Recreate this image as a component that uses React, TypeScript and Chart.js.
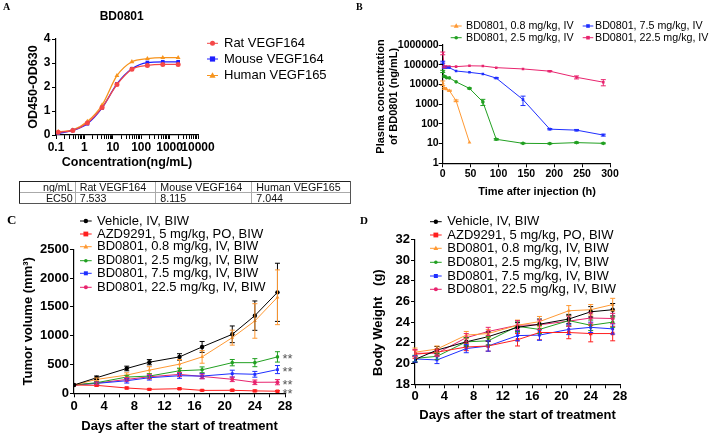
import React, { useEffect, useRef } from "react";
import { Chart, registerables } from "chart.js";

Chart.register(...registerables);

const FONT = "'Liberation Sans', Arial, Helvetica, sans-serif";
Chart.defaults.font.family = FONT;
Chart.defaults.color = "#000";

// ---------- Panel A: ELISA binding ----------
const concA = [0.12, 0.39, 1.27, 4.2, 14, 47, 165, 575, 2000];
const ratA = [0.11, 0.19, 0.5, 1.15, 2.1, 2.74, 2.9, 2.94, 2.94];
const mouseA = [0.07, 0.19, 0.47, 1.13, 2.13, 2.76, 3.02, 3.05, 3.05];
const humanA = [0.13, 0.21, 0.56, 1.25, 2.47, 3.05, 3.18, 3.22, 3.22];
const ticksA = [0.1, 1, 10, 100, 1000, 10000];
const ec50Header = ["ng/mL", "Rat VEGF164", "Mouse VEGF164", "Human VEGF165"];
const ec50Row = ["EC50", "7.533", "8.115", "7.044"];

// ---------- Panel B: PK ----------
const timesB = [0.083, 3, 7, 12, 24, 48, 72, 96, 144, 192, 240, 288];
const pk08 = [12000, 6300, 5800, 4800, 1480, 11.5];
const pk08Sd = [3000, 600, 0, 300, 150, 0];
const pk25 = [46000, 25500, 22000, 21500, 13500, 6300, 1300, 16.5, 10.3, 10, 11.2, 10.3];
const pk25Sd = [6000, 2000, 0, 0, 0, 400, 450, 1.5, 0.5, 0.5, 0.8, 0.6];
const pk75 = [135000, 74000, 70000, 70000, 48000, 41000, 34000, 21000, 1700, 54, 48, 27];
const pk75Sd = [15000, 8000, 0, 0, 0, 0, 0, 1500, 850, 4, 4, 3];
const pk225 = [380000, 78000, 80000, 80000, 80000, 88000, 86000, 71000, 61000, 47000, 23000, 13000];
const pk225Sd = [60000, 8000, 0, 0, 0, 0, 0, 0, 0, 3000, 4000, 4500];
const ticksB = [1, 10, 100, 1000, 10000, 100000, 1000000];

// ---------- Panels C & D ----------
const daysCD = [0, 3, 7, 10, 14, 17, 21, 24, 27];
const groupLabels = [
  "Vehicle, IV, BIW",
  "AZD9291, 5 mg/kg, PO, BIW",
  "BD0801, 0.8 mg/kg, IV, BIW",
  "BD0801, 2.5 mg/kg, IV, BIW",
  "BD0801, 7.5 mg/kg, IV, BIW",
  "BD0801, 22.5 mg/kg, IV, BIW",
];
const tvVehicle = [144, 270, 431, 540, 632, 805, 1024, 1348, 1753];
const tvVehicleSd = [0, 30, 40, 45, 55, 95, 145, 255, 505];
const tvAzd = [144, 138, 92, 69, 80, 50, 52, 42, 36];
const tvAzdSd = [0, 15, 15, 12, 12, 10, 15, 15, 12];
const tv08 = [144, 241, 316, 402, 506, 632, 966, 1256, 1667];
const tv08Sd = [0, 25, 40, 60, 80, 110, 130, 300, 475];
const tv25 = [144, 184, 282, 299, 391, 408, 532, 532, 632];
const tv25Sd = [0, 20, 30, 40, 45, 50, 55, 70, 90];
const tv75 = [144, 172, 218, 270, 305, 299, 341, 330, 412];
const tv75Sd = [0, 20, 40, 40, 45, 45, 60, 50, 70];
const tv225 = [144, 176, 241, 287, 328, 293, 243, 191, 193];
const tv225Sd = [0, 20, 30, 35, 35, 40, 40, 40, 45];
const sigC = ["", "**", "", "**", "**", "**"];

const bwVehicle = [20.4, 21.3, 22.1, 22.6, 23.5, 23.8, 24.3, 25.0, 25.2];
const bwVehicleSd = [0.3, 0.35, 0.4, 0.45, 0.45, 0.5, 0.45, 0.5, 0.6];
const bwAzd = [20.9, 21.1, 21.6, 21.7, 22.3, 23.0, 23.0, 22.9, 22.9];
const bwAzdSd = [0.4, 0.3, 0.35, 0.5, 0.6, 0.7, 0.6, 0.8, 0.7];
const bw08 = [21.1, 21.4, 22.75, 22.9, 23.7, 24.05, 25.1, 25.2, 25.7];
const bw08Sd = [0.4, 0.3, 0.35, 0.4, 0.5, 0.5, 0.5, 0.5, 0.6];
const bw25 = [20.5, 20.7, 22.1, 22.2, 23.6, 23.3, 24.15, 23.7, 24.0];
const bw25Sd = [0.3, 0.3, 0.4, 0.4, 0.5, 0.4, 0.5, 0.5, 0.5];
const bw75 = [20.45, 20.35, 21.45, 21.7, 22.7, 22.75, 23.3, 23.5, 23.35];
const bw75Sd = [0.3, 0.35, 0.4, 0.5, 0.5, 0.5, 0.5, 0.5, 0.5];
const bw225 = [21.0, 21.0, 22.5, 23.1, 23.7, 23.75, 24.1, 24.4, 24.35];
const bw225Sd = [0.35, 0.3, 0.4, 0.4, 0.45, 0.45, 0.5, 0.5, 0.5];

// ---------- colours ----------
const BLACK = "#000000";
const RED = "#ff1f1f";
const ORANGE = "#ff9933";
const GREEN = "#22a022";
const BLUE = "#1f2fff";
const PINK = "#e8246e";
const A_RAT = "#f44848";
const A_MOUSE = "#1e1eff";
const A_HUMAN = "#f7941d";

const pts = (xs: number[], ys: number[]) => ys.map((y, i) => ({ x: xs[i], y }));

function drawMarker(ctx: CanvasRenderingContext2D, style: string, x: number, y: number, r: number, color: string) {
  ctx.fillStyle = color;
  ctx.beginPath();
  if (style === "rect") {
    ctx.rect(x - r, y - r, 2 * r, 2 * r);
  } else if (style === "triangle") {
    ctx.moveTo(x, y - r * 1.2);
    ctx.lineTo(x + r * 1.1, y + r * 0.8);
    ctx.lineTo(x - r * 1.1, y + r * 0.8);
    ctx.closePath();
  } else {
    ctx.arc(x, y, r, 0, Math.PI * 2);
  }
  ctx.fill();
}

type LegendPos = { x0: number; x1: number; tx: number; y: number };

function makeLegendPlugin(pos: LegendPos[], font: string) {
  return {
    id: "panelLegend",
    afterDraw(chart: any) {
      const ctx = chart.ctx as CanvasRenderingContext2D;
      ctx.save();
      chart.data.datasets.forEach((ds: any, i: number) => {
        const p = pos[i];
        if (!p) return;
        ctx.strokeStyle = ds.borderColor;
        ctx.lineWidth = 1;
        ctx.beginPath();
        ctx.moveTo(p.x0, p.y);
        ctx.lineTo(p.x1, p.y);
        ctx.stroke();
        drawMarker(ctx, ds.pointStyle, (p.x0 + p.x1) / 2, p.y, ds.pointRadius, ds.borderColor);
        ctx.fillStyle = "#000";
        ctx.font = font;
        ctx.textAlign = "left";
        ctx.textBaseline = "middle";
        ctx.fillText(ds.label, p.tx, p.y);
      });
      ctx.restore();
    },
  };
}

const errorBarPlugin = {
  id: "errorBars",
  afterDatasetsDraw(chart: any) {
    const ctx = chart.ctx as CanvasRenderingContext2D;
    const ys = chart.scales.y;
    ctx.save();
    chart.data.datasets.forEach((ds: any, i: number) => {
      const errs: number[] | undefined = ds.errors;
      if (!errs) return;
      const meta = chart.getDatasetMeta(i);
      ctx.strokeStyle = ds.borderColor;
      ctx.lineWidth = 1;
      meta.data.forEach((pt: any, j: number) => {
        const e = errs[j];
        if (!e) return;
        const v = ds.data[j].y;
        const yt = ys.getPixelForValue(v + e);
        const yb = ys.getPixelForValue(Math.max(v - e, ys.min));
        ctx.beginPath();
        ctx.moveTo(pt.x, yt);
        ctx.lineTo(pt.x, yb);
        ctx.moveTo(pt.x - 2.5, yt);
        ctx.lineTo(pt.x + 2.5, yt);
        ctx.moveTo(pt.x - 2.5, yb);
        ctx.lineTo(pt.x + 2.5, yb);
        ctx.stroke();
      });
    });
    ctx.restore();
  },
};

const sigPlugin = {
  id: "sigMarks",
  afterDraw(chart: any) {
    const ctx = chart.ctx as CanvasRenderingContext2D;
    ctx.save();
    ctx.font = `13px ${FONT}`;
    ctx.fillStyle = "#555";
    ctx.textAlign = "left";
    ctx.textBaseline = "middle";
    chart.data.datasets.forEach((ds: any, i: number) => {
      if (!ds.sig) return;
      const meta = chart.getDatasetMeta(i);
      const last = meta.data[meta.data.length - 1];
      ctx.fillText(ds.sig, last.x + 5, last.y + 3);
    });
    ctx.restore();
  },
};

function ds(label: string, color: string, style: string, r: number, data: any[], extra: any = {}) {
  return {
    label,
    data,
    borderColor: color,
    backgroundColor: color,
    pointBackgroundColor: color,
    pointBorderColor: color,
    pointStyle: style,
    pointRadius: r,
    pointBorderWidth: 0,
    borderWidth: 1,
    fill: false,
    ...extra,
  };
}

type Geo = { W: number; H: number; l: number; t: number; r: number; b: number };

function axisBase(fontSize: number) {
  return {
    border: { display: true, color: "#000", width: 1.2 },
    grid: { display: true, drawOnChartArea: false, drawTicks: true, tickLength: 4, color: "#000", tickColor: "#000", lineWidth: 1 },
    ticks: { font: { size: fontSize, weight: "bold" as const }, color: "#000", autoSkip: false, maxRotation: 0, minRotation: 0 },
  };
}

function baseOptions(g: Geo) {
  return {
    responsive: false,
    maintainAspectRatio: false,
    animation: false as const,
    events: [] as any[],
    layout: { autoPadding: false, padding: { left: 0, top: g.t, right: g.W - g.r, bottom: 0 } },
    plugins: { legend: { display: false }, tooltip: { enabled: false }, title: { display: false } },
  };
}

function fixY(width: number) {
  return (s: any) => {
    s.width = width;
    s.paddingTop = 0;
    s.paddingBottom = 0;
    s.paddingLeft = 0;
    s.paddingRight = 0;
  };
}
function fixX(height: number) {
  return (s: any) => {
    s.height = height;
    s.paddingTop = 0;
    s.paddingBottom = 0;
    s.paddingLeft = 0;
    s.paddingRight = 0;
  };
}

const plainNum = (v: number) => String(v);

// ---------- chart builders ----------
const geoA: Geo = { W: 355, H: 175, l: 56, t: 39, r: 198, b: 135 };
function buildA() {
  const g = geoA;
  const xb = axisBase(12);
  const yb = axisBase(12);
  return {
    type: "line" as const,
    data: {
      datasets: [
        ds("Rat VEGF164", A_RAT, "circle", 2.5, pts(concA, ratA), { cubicInterpolationMode: "monotone", borderWidth: 1.3 }),
        ds("Mouse VEGF164", A_MOUSE, "rect", 2.6, pts(concA, mouseA), { cubicInterpolationMode: "monotone", borderWidth: 1.3 }),
        ds("Human VEGF165", A_HUMAN, "triangle", 2.8, pts(concA, humanA), { cubicInterpolationMode: "monotone", borderWidth: 1.3 }),
      ],
    },
    options: {
      ...baseOptions(g),
      scales: {
        x: {
          type: "logarithmic" as const,
          min: 0.1,
          max: 10000,
          ...xb,
          ticks: {
            ...xb.ticks,
            padding: 1,
            callback: (v: number) => {
              const t = ticksA.find((k) => Math.abs(k - v) / k < 1e-6);
              return t !== undefined ? String(t) : "";
            },
          },
          afterBuildTicks: (s: any) => {
            const arr: any[] = [];
            for (let e = -1; e < 4; e++) {
              for (let m = 1; m < 10; m++) arr.push({ value: m * Math.pow(10, e) });
            }
            arr.push({ value: 10000 });
            s.ticks = arr;
          },
          title: { display: true, text: "Concentration(ng/mL)", font: { size: 12.5, weight: "bold" as const }, padding: { top: 0, bottom: 4.5 } },
          afterFit: fixX(g.H - g.b),
        },
        y: {
          type: "linear" as const,
          min: 0,
          max: 4,
          ...yb,
          ticks: { ...yb.ticks, stepSize: 1, padding: 1.5, callback: plainNum },
          title: { display: true, text: "OD450-OD630", font: { size: 12.5, weight: "bold" as const }, padding: { top: 26, bottom: 0 } },
          afterFit: fixY(g.l),
        },
      },
    },
    plugins: [
      makeLegendPlugin(
        [
          { x0: 207, x1: 218, tx: 224, y: 43.3 },
          { x0: 207, x1: 218, tx: 224, y: 59 },
          { x0: 207, x1: 218, tx: 224, y: 75.5 },
        ],
        `13px ${FONT}`
      ),
    ],
  };
}

const geoB: Geo = { W: 349, H: 205, l: 82.7, t: 45, r: 250, b: 163.3 };
function buildB() {
  const g = geoB;
  const xb = axisBase(10.5);
  const yb = axisBase(10.5);
  return {
    type: "line" as const,
    data: {
      datasets: [
        ds("BD0801, 0.8 mg/kg, IV", ORANGE, "triangle", 2.2, pts(timesB, pk08), { errors: pk08Sd }),
        ds("BD0801, 2.5 mg/kg, IV", GREEN, "circle", 1.8, pts(timesB, pk25), { errors: pk25Sd }),
        ds("BD0801, 7.5 mg/kg, IV", BLUE, "rect", 1.8, pts(timesB, pk75), { errors: pk75Sd }),
        ds("BD0801, 22.5 mg/kg, IV", PINK, "rect", 1.8, pts(timesB, pk225), { errors: pk225Sd }),
      ],
    },
    options: {
      ...baseOptions(g),
      scales: {
        x: {
          type: "linear" as const,
          min: 0,
          max: 300,
          ...xb,
          ticks: { ...xb.ticks, stepSize: 50, padding: 0.5, callback: plainNum },
          title: { display: true, text: "       Time after injection (h)", font: { size: 11, weight: "bold" as const }, padding: { top: 0, bottom: 6.4 } },
          afterFit: fixX(g.H - g.b),
        },
        y: {
          type: "logarithmic" as const,
          min: 1,
          max: 1000000,
          ...yb,
          ticks: { ...yb.ticks, padding: 0, callback: (v: number) => String(Math.round(v)) },
          afterBuildTicks: (s: any) => {
            s.ticks = ticksB.map((v) => ({ value: v }));
          },
          title: {
            display: true,
            text: ["     Plasma concentration", "     of BD0801 (ng/mL)"],
            font: { size: 11, weight: "bold" as const },
            padding: { top: 13.9, bottom: 0 },
          },
          afterFit: fixY(g.l),
        },
      },
    },
    plugins: [
      errorBarPlugin,
      makeLegendPlugin(
        [
          { x0: 90.7, x1: 101.7, tx: 106, y: 26 },
          { x0: 90.7, x1: 101.7, tx: 106, y: 37.7 },
          { x0: 222.7, x1: 233.3, tx: 235, y: 26 },
          { x0: 222.7, x1: 233.3, tx: 235, y: 37.7 },
        ],
        `10.7px ${FONT}`
      ),
    ],
  };
}

function groupDatasets(values: number[][], errs: number[][], sig?: string[]) {
  const colors = [BLACK, RED, ORANGE, GREEN, BLUE, PINK];
  const styles = ["circle", "rect", "triangle", "circle", "rect", "circle"];
  const radii = [2.2, 2.4, 2.2, 1.8, 2, 2];
  return values.map((v, i) =>
    ds(groupLabels[i], colors[i], styles[i], radii[i], pts(daysCD, v), { errors: errs[i], sig: sig ? sig[i] : "" })
  );
}

const geoC: Geo = { W: 355, H: 226, l: 74, t: 41.3, r: 285, b: 185.3 };
function buildC() {
  const g = geoC;
  const xb = axisBase(13);
  const yb = axisBase(13);
  return {
    type: "line" as const,
    data: {
      datasets: groupDatasets(
        [tvVehicle, tvAzd, tv08, tv25, tv75, tv225],
        [tvVehicleSd, tvAzdSd, tv08Sd, tv25Sd, tv75Sd, tv225Sd],
        sigC
      ),
    },
    options: {
      ...baseOptions(g),
      scales: {
        x: {
          type: "linear" as const,
          min: 0,
          max: 28,
          ...xb,
          ticks: { ...xb.ticks, stepSize: 2, padding: 1.5, callback: (v: number) => (v % 4 === 0 ? String(v) : "") },
          title: { display: true, text: "Days after the start of treatment", font: { size: 13, weight: "bold" as const }, padding: { top: 0, bottom: 0.2 } },
          afterFit: fixX(g.H - g.b),
        },
        y: {
          type: "linear" as const,
          min: 0,
          max: 2500,
          ...yb,
          ticks: { ...yb.ticks, stepSize: 500, padding: 1, callback: plainNum },
          title: { display: true, text: "Tumor volume (mm\u00B3)", font: { size: 13, weight: "bold" as const }, padding: { top: 20.2, bottom: 0 } },
          afterFit: fixY(g.l),
        },
      },
    },
    plugins: [
      errorBarPlugin,
      sigPlugin,
      makeLegendPlugin(
        [13, 26, 38.7, 52.7, 65.3, 79.3].map((y) => ({ x0: 80, x1: 91.7, tx: 97, y })),
        `13px ${FONT}`
      ),
    ],
  };
}

const geoD: Geo = { W: 354, H: 226, l: 60, t: 31.3, r: 265, b: 176.3 };
function buildD() {
  const g = geoD;
  const xb = axisBase(13);
  const yb = axisBase(13);
  return {
    type: "line" as const,
    data: {
      datasets: groupDatasets(
        [bwVehicle, bwAzd, bw08, bw25, bw75, bw225],
        [bwVehicleSd, bwAzdSd, bw08Sd, bw25Sd, bw75Sd, bw225Sd]
      ),
    },
    options: {
      ...baseOptions(g),
      scales: {
        x: {
          type: "linear" as const,
          min: 0,
          max: 28,
          ...xb,
          ticks: { ...xb.ticks, stepSize: 2, padding: 0.5, callback: (v: number) => (v % 4 === 0 ? String(v) : "") },
          title: { display: true, text: "Days after the start of treatment", font: { size: 13, weight: "bold" as const }, padding: { top: 0, bottom: 10.7 } },
          afterFit: fixX(g.H - g.b),
        },
        y: {
          type: "linear" as const,
          min: 18,
          max: 32,
          ...yb,
          ticks: { ...yb.ticks, stepSize: 2, padding: 1, callback: plainNum },
          title: { display: true, text: "Body Weight   (g)      ", font: { size: 13, weight: "bold" as const }, padding: { top: 15.2, bottom: 0 } },
          afterFit: fixY(g.l),
        },
      },
    },
    plugins: [
      errorBarPlugin,
      makeLegendPlugin(
        [13.7, 27, 40.3, 54.3, 68, 81.3].map((y) => ({ x0: 75, x1: 86.7, tx: 92.3, y })),
        `13px ${FONT}`
      ),
    ],
  };
}

function ChartCanvas(props: { left: number; top: number; geo: Geo; build: () => any }) {
  const ref = useRef<HTMLCanvasElement>(null);
  useEffect(() => {
    const chart = new Chart(ref.current as HTMLCanvasElement, props.build());
    return () => chart.destroy();
  }, []);
  const { W, H } = props.geo;
  return (
    <canvas
      ref={ref}
      width={W}
      height={H}
      style={{ position: "absolute", left: props.left, top: props.top, width: W, height: H }}
    />
  );
}

const letterStyle = (left: number, top: number, size: number): React.CSSProperties => ({
  position: "absolute",
  left,
  top,
  fontFamily: "'Liberation Serif', 'Times New Roman', serif",
  fontWeight: "bold",
  fontSize: size,
  lineHeight: 1,
  color: "#000",
});

function EC50Table() {
  const widths = [52.7, 75.6, 91, 93.7];
  const cell = (txt: string, i: number, row: number) => (
    <td
      key={i}
      style={{
        width: widths[i],
        height: row === 0 ? 10 : 9.3,
        padding: i === 0 ? "0 2px 0 0" : "0 0 0 4px",
        textAlign: i === 0 ? "right" : "left",
        borderLeft: i === 0 ? "1px solid #222" : "1px solid #aaa",
        borderRight: i === 3 ? "1.5px solid #555" : "none",
        borderTop: row === 0 ? "1px solid #222" : "1px solid #aaa",
        borderBottom: row === 1 ? "1.5px solid #555" : "none",
        lineHeight: "10px",
        whiteSpace: "nowrap",
        overflow: "hidden",
      }}
    >
      {txt}
    </td>
  );
  return (
    <table
      style={{
        position: "absolute",
        left: 19,
        top: 180.5,
        width: 313,
        borderCollapse: "collapse",
        tableLayout: "fixed",
        fontFamily: FONT,
        fontSize: 10.7,
        color: "#111",
      }}
    >
      <tbody>
        <tr>{ec50Header.map((t, i) => cell(t, i, 0))}</tr>
        <tr>{ec50Row.map((t, i) => cell(t, i, 1))}</tr>
      </tbody>
    </table>
  );
}

export default function App() {
  return (
    <div style={{ position: "absolute", left: 0, top: 0, width: 709, height: 434, background: "#fff", overflow: "hidden" }}>
      <ChartCanvas left={0} top={0} geo={geoA} build={buildA} />
      <ChartCanvas left={360} top={0} geo={geoB} build={buildB} />
      <ChartCanvas left={0} top={208} geo={geoC} build={buildC} />
      <ChartCanvas left={355} top={208} geo={geoD} build={buildD} />
      <div style={letterStyle(3, 2, 10)}>A</div>
      <div style={letterStyle(356, 2, 10)}>B</div>
      <div style={letterStyle(7, 213, 13)}>C</div>
      <div style={letterStyle(360, 215, 11)}>D</div>
      <div
        style={{
          position: "absolute",
          left: 81.7,
          width: 80,
          top: 9,
          textAlign: "center",
          fontFamily: FONT,
          fontWeight: "bold",
          fontSize: 12,
          lineHeight: "14px",
        }}
      >
        BD0801
      </div>
      <EC50Table />
    </div>
  );
}
